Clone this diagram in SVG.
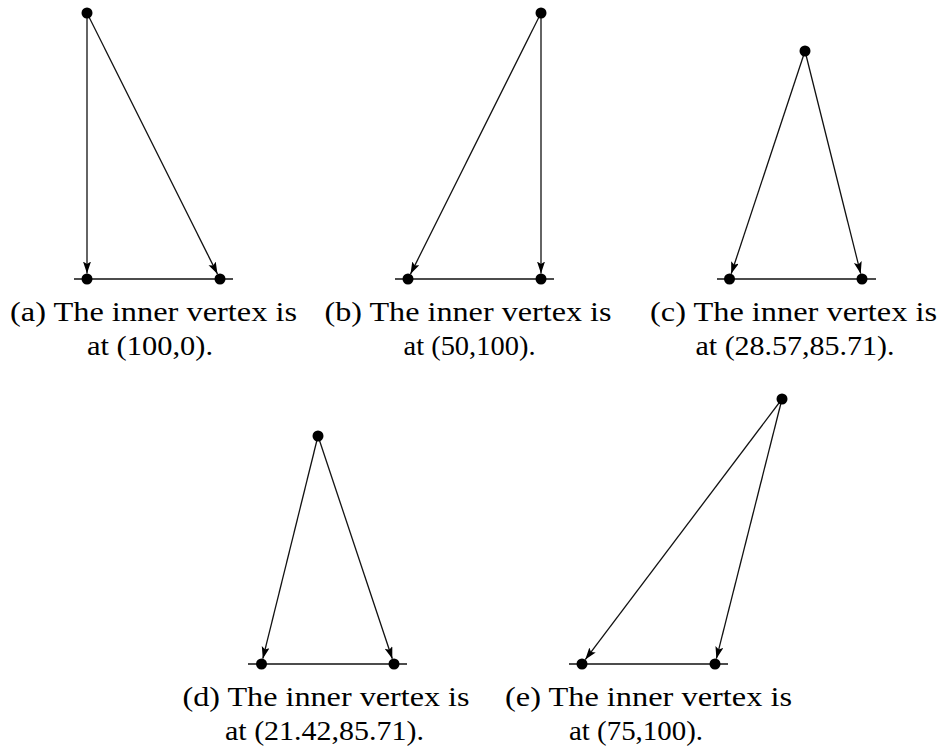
<svg xmlns="http://www.w3.org/2000/svg" width="943" height="750" viewBox="0 0 943 750">
<style>
.dot{fill:#000}
.base{stroke:#111;stroke-width:1.3;fill:none}
.arr{stroke:#111;stroke-width:1.3;fill:none;marker-end:url(#ah)}
.cap{font-family:"Liberation Serif","DejaVu Serif",serif;font-size:27px;fill:#000;text-anchor:middle}
</style>
<defs>
<marker id="ah" markerUnits="userSpaceOnUse" markerWidth="14" markerHeight="10" refX="12" refY="4" orient="auto">
<path d="M0,0 L12,4 L0,8 L2.5,4 z" fill="#000"/>
</marker>
</defs>
<rect width="943" height="750" fill="#fff"/>
<g id="baselines">
<line class="base" x1="74" y1="279" x2="233" y2="279"/>
<line class="base" x1="395" y1="279" x2="554" y2="279"/>
<line class="base" x1="717" y1="279" x2="876" y2="279"/>
<line class="base" x1="248" y1="664" x2="407" y2="664"/>
<line class="base" x1="569" y1="664" x2="728" y2="664"/>
</g>
<g id="connectors">
<line class="arr" x1="87" y1="13" x2="87" y2="273.5"/>
<line class="arr" x1="87" y1="13" x2="217.5" y2="274.1"/>
<line class="arr" x1="541" y1="13" x2="410.5" y2="274.1"/>
<line class="arr" x1="541" y1="13" x2="541" y2="273.5"/>
<line class="arr" x1="805" y1="51" x2="731.2" y2="273.8"/>
<line class="arr" x1="805" y1="51" x2="860.7" y2="273.7"/>
<line class="arr" x1="318" y1="436" x2="262.8" y2="658.7"/>
<line class="arr" x1="318" y1="436" x2="392.3" y2="658.8"/>
<line class="arr" x1="782" y1="399" x2="585.3" y2="659.6"/>
<line class="arr" x1="782" y1="399" x2="716.4" y2="658.7"/>
</g>
<g id="a-top"><circle class="dot" cx="87" cy="13" r="5.5"/></g>
<g id="a-left"><circle class="dot" cx="87" cy="279" r="5.5"/></g>
<g id="a-right"><circle class="dot" cx="220" cy="279" r="5.5"/></g>
<g id="b-top"><circle class="dot" cx="541" cy="13" r="5.5"/></g>
<g id="b-left"><circle class="dot" cx="408" cy="279" r="5.5"/></g>
<g id="b-right"><circle class="dot" cx="541" cy="279" r="5.5"/></g>
<g id="c-top"><circle class="dot" cx="805" cy="51" r="5.5"/></g>
<g id="c-left"><circle class="dot" cx="729.5" cy="279" r="5.5"/></g>
<g id="c-right"><circle class="dot" cx="862" cy="279" r="5.5"/></g>
<g id="d-top"><circle class="dot" cx="318" cy="436" r="5.5"/></g>
<g id="d-left"><circle class="dot" cx="261.5" cy="664" r="5.5"/></g>
<g id="d-right"><circle class="dot" cx="394" cy="664" r="5.5"/></g>
<g id="e-top"><circle class="dot" cx="782" cy="399" r="5.5"/></g>
<g id="e-left"><circle class="dot" cx="582" cy="664" r="5.5"/></g>
<g id="e-right"><circle class="dot" cx="715" cy="664" r="5.5"/></g>
<g id="captions">
<text class="cap" x="153.5" y="321" textLength="287" lengthAdjust="spacingAndGlyphs">(a) The inner vertex is</text>
<text class="cap" x="150" y="355" textLength="126" lengthAdjust="spacingAndGlyphs">at (100,0).</text>
<text class="cap" x="468" y="321" textLength="287" lengthAdjust="spacingAndGlyphs">(b) The inner vertex is</text>
<text class="cap" x="469.5" y="355" textLength="132" lengthAdjust="spacingAndGlyphs">at (50,100).</text>
<text class="cap" x="793.5" y="321" textLength="287" lengthAdjust="spacingAndGlyphs">(c) The inner vertex is</text>
<text class="cap" x="795" y="355" textLength="199" lengthAdjust="spacingAndGlyphs">at (28.57,85.71).</text>
<text class="cap" x="326" y="706" textLength="287" lengthAdjust="spacingAndGlyphs">(d) The inner vertex is</text>
<text class="cap" x="324.5" y="740" textLength="199" lengthAdjust="spacingAndGlyphs">at (21.42,85.71).</text>
<text class="cap" x="648.5" y="706" textLength="287" lengthAdjust="spacingAndGlyphs">(e) The inner vertex is</text>
<text class="cap" x="636" y="740" textLength="134" lengthAdjust="spacingAndGlyphs">at (75,100).</text>
</g>
</svg>
